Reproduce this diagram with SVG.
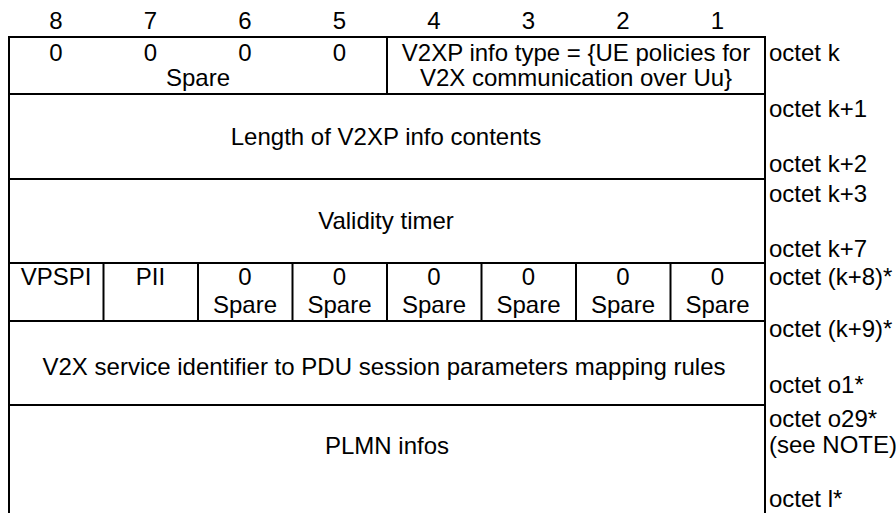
<svg xmlns="http://www.w3.org/2000/svg" width="896" height="513" viewBox="0 0 896 513">
<style>
text{font-family:"Liberation Sans",Arial,sans-serif;font-size:24px;fill:#000}
.c{text-anchor:middle}
.l{text-anchor:start}
line{stroke:#000;stroke-width:2;fill:none}
</style>
<rect x="0" y="0" width="896" height="513" fill="#fff"/>
<g id="header">
<text class="c" x="56" y="29">8</text>
<text class="c" x="150.5" y="29">7</text>
<text class="c" x="245" y="29">6</text>
<text class="c" x="339.5" y="29">5</text>
<text class="c" x="434" y="29">4</text>
<text class="c" x="528.5" y="29">3</text>
<text class="c" x="623" y="29">2</text>
<text class="c" x="717.5" y="29">1</text>
</g>
<g id="grid">
<line x1="9" y1="37" x2="765" y2="37"/>
<line x1="9" y1="94" x2="765" y2="94"/>
<line x1="9" y1="179" x2="765" y2="179"/>
<line x1="9" y1="263" x2="765" y2="263"/>
<line x1="9" y1="321" x2="765" y2="321"/>
<line x1="9" y1="405" x2="765" y2="405"/>
<line x1="9" y1="36" x2="9" y2="513"/>
<line x1="765" y1="36" x2="765" y2="513"/>
<line x1="387" y1="37" x2="387" y2="94"/>
<line x1="103.5" y1="263" x2="103.5" y2="321"/>
<line x1="198" y1="263" x2="198" y2="321"/>
<line x1="292.5" y1="263" x2="292.5" y2="321"/>
<line x1="387" y1="263" x2="387" y2="321"/>
<line x1="481.5" y1="263" x2="481.5" y2="321"/>
<line x1="576" y1="263" x2="576" y2="321"/>
<line x1="670.5" y1="263" x2="670.5" y2="321"/>
</g>
<g id="row1">
<text class="c" x="56" y="61">0</text>
<text class="c" x="150.5" y="61">0</text>
<text class="c" x="245" y="61">0</text>
<text class="c" x="339.5" y="61">0</text>
<text class="c" x="198" y="86">Spare</text>
<text class="c" x="576" y="61">V2XP info type = {UE policies for</text>
<text class="c" x="576" y="86">V2X communication over Uu}</text>
<text class="l" x="769" y="61">octet k</text>
</g>
<g id="row2">
<text class="c" x="386" y="145">Length of V2XP info contents</text>
<text class="l" x="769" y="117">octet k+1</text>
<text class="l" x="769" y="172">octet k+2</text>
</g>
<g id="row3">
<text class="c" x="386" y="229">Validity timer</text>
<text class="l" x="769" y="202">octet k+3</text>
<text class="l" x="769" y="257">octet k+7</text>
</g>
<g id="row4">
<text class="c" x="56" y="285">VPSPI</text>
<text class="c" x="150.5" y="285">PII</text>
<text class="c" x="245" y="285">0</text>
<text class="c" x="245" y="313">Spare</text>
<text class="c" x="339.5" y="285">0</text>
<text class="c" x="339.5" y="313">Spare</text>
<text class="c" x="434" y="285">0</text>
<text class="c" x="434" y="313">Spare</text>
<text class="c" x="528.5" y="285">0</text>
<text class="c" x="528.5" y="313">Spare</text>
<text class="c" x="623" y="285">0</text>
<text class="c" x="623" y="313">Spare</text>
<text class="c" x="717.5" y="285">0</text>
<text class="c" x="717.5" y="313">Spare</text>
<text class="l" x="769" y="285">octet (k+8)*</text>
</g>
<g id="row5">
<text class="c" x="384" y="375">V2X service identifier to PDU session parameters mapping rules</text>
<text class="l" x="769" y="337">octet (k+9)*</text>
<text class="l" x="769" y="393">octet o1*</text>
</g>
<g id="row6">
<text class="c" x="387" y="454">PLMN infos</text>
<text class="l" x="769" y="427">octet o29*</text>
<text class="l" x="769" y="453">(see NOTE)</text>
<text class="l" x="769" y="507">octet l*</text>
</g>
</svg>
